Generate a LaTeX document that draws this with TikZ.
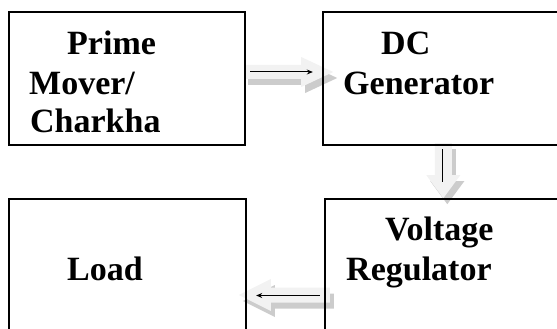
\documentclass[tikz,border=0pt]{standalone}
\usepackage{fontspec}
\setmainfont{Liberation Serif}
\usetikzlibrary{arrows.meta,calc}

\tikzset{
  lbl/.style={anchor=base west, inner sep=0pt, font=\fontsize{34}{39}\selectfont\bfseries},
  arrowface/.style={fill=gray!10},
  arrowshade/.style={fill=gray!40},
  thinline/.style={line width=1pt},
  thintip/.style={-{Stealth[length=6pt,width=5pt]}},
}

% Outline of a block arrow pointing along +x, tail at the origin.
% #1 style, #2 length, #3 shaft half-width, #4 head half-width, #5 head length
\newcommand\arrowbody[5]{%
  \path[#1] (0,-#3) -- (#2-#5,-#3) -- (#2-#5,-#4) -- (#2,0)
    -- (#2-#5,#4) -- (#2-#5,#3) -- (0,#3) -- cycle;}

% Block arrow with a drop shadow.
% #1 tail coordinate name, #2 direction, #3 length, #4 shaft half-width,
% #5 head half-width, #6 head length
\newcommand\fatarrow[6]{%
  \begin{scope}[shift={(#1)}, shift={(4,-6)}, rotate=#2]
    \arrowbody{arrowshade}{#3}{#4}{#5}{#6}
  \end{scope}
  \begin{scope}[shift={(#1)}, rotate=#2]
    \arrowbody{arrowface}{#3}{#4}{#5}{#6}
  \end{scope}}

\begin{document}
\begin{tikzpicture}[x=1pt,y=1pt]
  \useasboundingbox (0,0) rectangle (557,-329);
  \clip (0,0) rectangle (557,-329);

  % boxes (placed first so the arrows can refer to them)
  \path (127,-78.5)    node[minimum width=236, minimum height=133, inner sep=0pt] (pm) {};
  \path (471.5,-78.5)  node[minimum width=297, minimum height=133, inner sep=0pt] (dc) {};
  \path (472.5,-289.5) node[minimum width=295, minimum height=181, inner sep=0pt] (vr) {};
  \path (127.5,-289.5) node[minimum width=237, minimum height=181, inner sep=0pt] (ld) {};

  % block arrows
  \coordinate (b1) at ($(pm.east)+(-1,6.5)$);
  \coordinate (b2) at ($(dc.south west)+(120.5,2)$);
  \coordinate (b3) at ($(vr.west)+(5,-5.5)$);
  \fatarrow{b1}{0}{89}{7}{15}{32}
  \fatarrow{b2}{-90}{55}{8.5}{17}{23}
  \fatarrow{b3}{180}{91}{7.5}{16}{32}

  % thin arrows inside the block arrows
  \coordinate (a1s) at ($(pm.east)+(5,6.5)$);
  \coordinate (a1e) at ($(dc.west)+(-10,6.5)$);
  \coordinate (a2s) at ($(dc.south west)+(120,-4)$);
  \coordinate (a2e) at ($(vr.north west)+(118,17)$);
  \coordinate (a3s) at ($(vr.west)+(-5,-6)$);
  \coordinate (a3e) at ($(ld.east)+(10,-6)$);
  \draw[thinline, thintip] (a1s) -- (a1e);
  \draw[thinline] (a2s) -- (a2e);
  \draw[thinline, thintip] (a3s) -- (a3e);

  % box outlines
  \foreach \b in {pm,dc,vr,ld}{
    \draw[black, line width=2pt] (\b.south west) rectangle (\b.north east);
  }

  % labels
  \node[lbl] (t1) at (67,-55)    {Prime};
  \node[lbl] (t2) at (29,-94)    {Mover/};
  \node[lbl] (t3) at (30,-132.5) {Charkha};
  \node[lbl] (t4) at (381,-55)   {DC};
  \node[lbl] (t5) at (343,-94)   {Generator};
  \node[lbl] (t6) at (385,-240)  {Voltage};
  \node[lbl] (t7) at (346,-280)  {Regulator};
  \node[lbl] (t8) at (67,-280)   {Load};
\end{tikzpicture}
\end{document}
